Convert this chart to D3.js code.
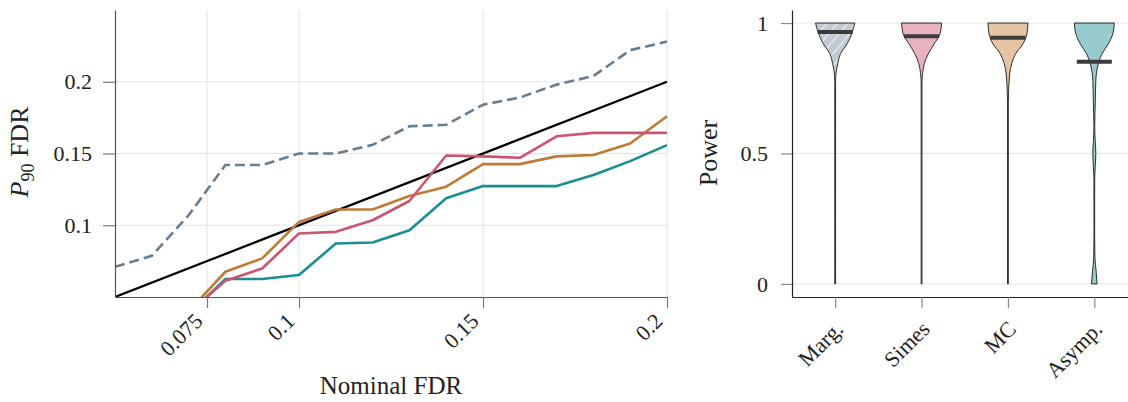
<!DOCTYPE html>
<html><head><meta charset="utf-8">
<script src="https://cdn.jsdelivr.net/npm/d3@7"></script>
<style>
body{margin:0;background:#fff;}
svg text{font-family:"Liberation Serif","Times New Roman",serif !important;}
</style></head>
<body><svg id="c" width="1128" height="402"></svg>
<script>
// ---------- data ----------
const nominalFDR = [0.05,0.06,0.07,0.08,0.09,0.10,0.11,0.12,0.13,0.14,0.15,0.16,0.17,0.18,0.19,0.20];
const margP90  = [0.071,0.0787,0.107,0.142,0.142,0.150,0.150,0.156,0.169,0.170,0.184,0.189,0.198,0.204,0.222,0.228];
const nominalFDR2 = [0.07,0.08,0.09,0.10,0.11,0.12,0.13,0.14,0.15,0.16,0.17,0.18,0.19,0.20];
const simesP90 = [0.039,0.0613,0.0699,0.0943,0.0954,0.1035,0.1169,0.1486,0.148,0.147,0.162,0.1644,0.1644,0.1644];
const mcP90    = [0.040,0.0676,0.0769,0.1023,0.111,0.111,0.1204,0.1269,0.1426,0.1426,0.148,0.149,0.157,0.176];
const asympP90 = [0.038,0.0625,0.0625,0.0653,0.0873,0.088,0.0965,0.1188,0.1273,0.1273,0.1273,0.135,0.1447,0.1558];
const xTicks = [0.075,0.1,0.15,0.2];
const xTickLabels = ["0.075","0.1","0.15","0.2"];
const yTicks = [0.1,0.15,0.2];
const yTickLabels = ["0.1","0.15","0.2"];

const methods = ["Marg.","Simes","MC","Asymp."];
const medians = [0.966,0.949,0.944,0.852];
// violin profiles: [power, relative density (max 1)]
const margDensity  = [[0,0.02],[0.78,0.02],[0.80,0.03],[0.845,0.13],[0.883,0.27],[0.921,0.6],[0.966,0.86],[1,0.98]];
const simesDensity = [[0,0.02],[0.77,0.02],[0.806,0.05],[0.845,0.14],[0.884,0.35],[0.92,0.63],[0.96,0.93],[1,1]];
const mcDensity    = [[0,0.02],[0.70,0.02],[0.73,0.03],[0.806,0.09],[0.845,0.19],[0.884,0.4],[0.92,0.75],[0.96,0.95],[1,1]];
const asympDensity = [[0,0.14],[0.05,0.09],[0.1,0.03],[0.2,0.015],[0.4,0.02],[0.45,0.045],[0.5,0.075],[0.55,0.045],[0.6,0.02],[0.70,0.05],[0.78,0.075],[0.82,0.13],[0.852,0.23],[0.884,0.4],[0.92,0.7],[0.96,0.93],[1,1]];
const powerTicks = [0,0.5,1];
const powerTickLabels = ["0","0.5","1"];

// ---------- styles ----------
const colMarg = "#687d8d", colSimes = "#cc5470", colMC = "#c17a36", colAsymp = "#1b8e93";
const fills = ["#c3cbd2","#e8b3bf","#e4c3a3","#98cbce"];
const TICKFONT = 22;

const svg = d3.select("#c");
const defs = svg.append("defs");
const pat = defs.append("pattern").attr("id","hatch").attr("patternUnits","userSpaceOnUse")
  .attr("width",8).attr("height",8).attr("patternTransform","rotate(40)");
pat.append("rect").attr("width",8).attr("height",8).attr("fill",fills[0]);
pat.append("line").attr("x1",0).attr("y1",0).attr("x2",0).attr("y2",8).attr("stroke","#fff").attr("stroke-width",1.6);

// ---------- left panel ----------
const L = {l:115, r:667, t:10, b:297};
const x = d3.scaleLinear().domain([0.05,0.2]).range([L.l,L.r]);
const y = d3.scaleLinear().domain([0.05,0.25]).range([L.b,L.t]);

const gL = svg.append("g");
gL.selectAll(".vg").data(xTicks).join("line")
  .attr("x1",d=>x(d)).attr("x2",d=>x(d)).attr("y1",L.t).attr("y2",L.b)
  .attr("stroke","#e3e3e3").attr("stroke-width",1);
gL.selectAll(".hg").data(yTicks).join("line")
  .attr("x1",L.l).attr("x2",L.r).attr("y1",d=>y(d)).attr("y2",d=>y(d))
  .attr("stroke","#e3e3e3").attr("stroke-width",1);

defs.append("clipPath").attr("id","clipL").append("rect")
  .attr("x",L.l).attr("y",L.t).attr("width",L.r-L.l+2).attr("height",L.b-L.t);
const plotL = gL.append("g").attr("clip-path","url(#clipL)");
const line = d3.line().x(d=>x(d[0])).y(d=>y(d[1]));
plotL.append("path").datum(nominalFDR.map((v,i)=>[v,margP90[i]])).attr("d",line)
  .attr("fill","none").attr("stroke",colMarg).attr("stroke-width",2.6).attr("stroke-dasharray","10,5");
plotL.append("path").datum([[0.05,0.05],[0.2,0.2]]).attr("d",line)
  .attr("fill","none").attr("stroke","#000").attr("stroke-width",2.2);
[[asympP90,colAsymp],[mcP90,colMC],[simesP90,colSimes]].forEach(([s,c])=>{
  plotL.append("path").datum(nominalFDR2.map((v,i)=>[v,s[i]])).attr("d",line)
    .attr("fill","none").attr("stroke",c).attr("stroke-width",2.6).attr("stroke-linejoin","round");
});

const axXL = gL.append("g").attr("transform",`translate(0,${L.b})`)
  .call(d3.axisBottom(x).tickValues(xTicks).tickFormat((d,i)=>xTickLabels[i]).tickSize(11).tickSizeOuter(0));
const axYL = gL.append("g").attr("transform",`translate(${L.l},0)`)
  .call(d3.axisLeft(y).tickValues(yTicks).tickFormat((d,i)=>yTickLabels[i]).tickSize(12).tickSizeOuter(0));
[axXL,axYL].forEach(a=>{
  a.select(".domain").attr("stroke","#555").attr("stroke-width",1.2);
  a.selectAll(".tick line").attr("stroke","#777").attr("stroke-width",1.2);
  a.selectAll("text").attr("font-size",TICKFONT).attr("fill","#222");
});
axYL.selectAll("text").attr("x",-23);
axXL.selectAll(".tick text").attr("text-anchor","end").attr("y",0).attr("x",0).attr("dy","0.35em")
  .attr("transform","translate(-9,20) rotate(-45)");

svg.append("text").attr("x",(L.l+L.r)/2).attr("y",394).attr("text-anchor","middle")
  .attr("font-size",25).attr("fill","#222").text("Nominal FDR");
const yl = svg.append("text").attr("transform","translate(28,152) rotate(-90)").attr("text-anchor","middle")
  .attr("font-size",26).attr("fill","#222");
yl.append("tspan").attr("font-style","italic").text("P");
yl.append("tspan").attr("font-size",18).attr("dy",6).text("90");
yl.append("tspan").attr("dy",-6).text(" FDR");

// ---------- right panel ----------
const R = {l:792, r:1137.5, t:10, b:297};
const xc = d3.scalePoint().domain(methods).range([R.l,R.r]).padding(0.5);
const yp = d3.scaleLinear().domain([-0.05,1.05]).range([R.b,R.t]);
const wv = d3.scaleLinear().domain([0,1]).range([0,20]);
const gR = svg.append("g");
gR.selectAll(".hg").data(powerTicks).join("line")
  .attr("x1",R.l).attr("x2",1128).attr("y1",d=>yp(d)).attr("y2",d=>yp(d))
  .attr("stroke","#e3e3e3").attr("stroke-width",1);

const densities = [margDensity,simesDensity,mcDensity,asympDensity];
methods.forEach((m,i)=>{
  const cx = xc(m);
  const area = d3.area().curve(d3.curveMonotoneY)
    .y(d=>yp(d[0])).x0(d=>cx-wv(d[1])).x1(d=>cx+wv(d[1]));
  gR.append("path").datum(densities[i]).attr("d",area)
    .attr("fill", i===0 ? "url(#hatch)" : fills[i])
    .attr("stroke","#1a1a1a").attr("stroke-width",0.9);
  gR.append("line").attr("x1",cx-17.5).attr("x2",cx+17.5)
    .attr("y1",yp(medians[i])).attr("y2",yp(medians[i]))
    .attr("stroke","#3b3b3b").attr("stroke-width",4);
});

const axXR = gR.append("g").attr("transform",`translate(0,${R.b})`)
  .call(d3.axisBottom(xc).tickSize(11).tickSizeOuter(0));
const axYR = gR.append("g").attr("transform",`translate(${R.l},0)`)
  .call(d3.axisLeft(yp).tickValues(powerTicks).tickFormat((d,i)=>powerTickLabels[i]).tickSize(11).tickSizeOuter(0));
[axXR,axYR].forEach(a=>{
  a.select(".domain").attr("stroke","#222").attr("stroke-width",1.2);
  a.selectAll(".tick line").attr("stroke","#888").attr("stroke-width",1.2);
  a.selectAll("text").attr("font-size",TICKFONT).attr("fill","#222");
});
axYR.selectAll("text").attr("x",-24);
axXR.selectAll(".tick text").attr("text-anchor","end").attr("y",0).attr("x",0).attr("dy","0.35em")
  .attr("transform","translate(3.5,28) rotate(-45)");

svg.append("text").attr("transform","translate(717,153) rotate(-90)").attr("text-anchor","middle")
  .attr("font-size",26).attr("fill","#222").text("Power");
</script></body></html>
